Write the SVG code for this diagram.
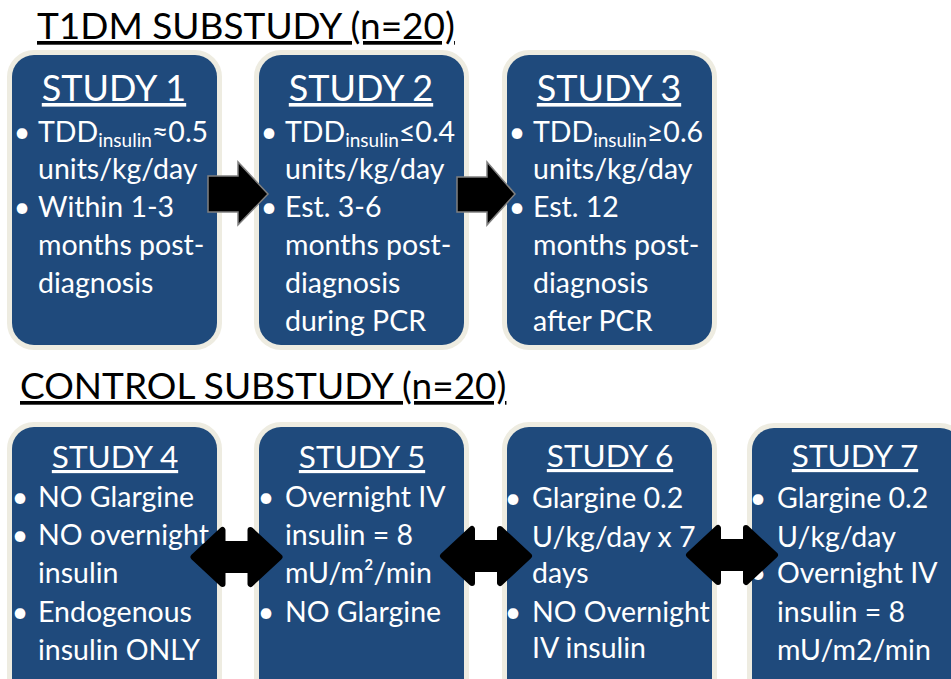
<svg xmlns="http://www.w3.org/2000/svg" width="951" height="679" viewBox="0 0 951 679">
<defs>
<style>
.box{fill:#1f4a7c;stroke:#eeece1;stroke-width:10;paint-order:stroke}
.t{font-family:Lato,"Open Sans","DejaVu Sans",sans-serif;fill:#fff}
.hd1{font-size:36px;text-anchor:middle;text-decoration:underline}
.hd2{font-size:31.5px;text-anchor:middle;text-decoration:underline}
.b1{font-size:28.5px}
.b2{font-size:28.5px}
.sub{font-size:19px}
.title{font-family:Lato,"Open Sans","DejaVu Sans",sans-serif;font-size:37px;fill:#000;text-decoration:underline}
.arr1{fill:#000;stroke:#808080;stroke-width:1.5}
.arr2{fill:#000;stroke:#000;stroke-width:6;stroke-linejoin:round}
</style>
<path id="dbl" d="M-43,0 L-14,-27 L-14,-13 L14,-13 L14,-27 L43,0 L14,27 L14,13 L-14,13 L-14,27 Z"/>
</defs>
<rect width="951" height="679" fill="#fff"/>
<text class="title" x="37" y="39">T1DM SUBSTUDY (n=20)</text>
<text class="title" x="20" y="399">CONTROL SUBSTUDY (n=20)</text>

<g id="study1">
<rect class="box" x="12" y="55" width="205" height="290" rx="22"/>
<text class="t hd1" x="114" y="101">STUDY 1</text>
<text class="t b1" x="22" y="142" text-anchor="middle">•</text>
<text class="t b1" x="38" y="142">TDD<tspan class="sub" dy="5">insulin</tspan><tspan dy="-5">≈0.5</tspan></text>
<text class="t b1" x="38" y="179">units/kg/day</text>
<text class="t b1" x="22" y="217" text-anchor="middle">•</text>
<text class="t b1" x="38" y="217">Within 1-3</text>
<text class="t b1" x="38" y="255">months post-</text>
<text class="t b1" x="38" y="293">diagnosis</text>
</g>

<g id="study2">
<rect class="box" x="259" y="55" width="205" height="290" rx="22"/>
<text class="t hd1" x="361" y="101">STUDY 2</text>
<text class="t b1" x="269" y="142" text-anchor="middle">•</text>
<text class="t b1" x="285" y="142">TDD<tspan class="sub" dy="5">insulin</tspan><tspan dy="-5">≤0.4</tspan></text>
<text class="t b1" x="285" y="179">units/kg/day</text>
<text class="t b1" x="269" y="217" text-anchor="middle">•</text>
<text class="t b1" x="285" y="217">Est. 3-6</text>
<text class="t b1" x="285" y="255">months post-</text>
<text class="t b1" x="285" y="293">diagnosis</text>
<text class="t b1" x="285" y="331">during PCR</text>
</g>

<g id="study3">
<rect class="box" x="507" y="55" width="205" height="290" rx="22"/>
<text class="t hd1" x="609" y="101">STUDY 3</text>
<text class="t b1" x="517" y="142" text-anchor="middle">•</text>
<text class="t b1" x="533" y="142">TDD<tspan class="sub" dy="5">insulin</tspan><tspan dy="-5">≥0.6</tspan></text>
<text class="t b1" x="533" y="179">units/kg/day</text>
<text class="t b1" x="517" y="217" text-anchor="middle">•</text>
<text class="t b1" x="533" y="217">Est. 12</text>
<text class="t b1" x="533" y="255">months post-</text>
<text class="t b1" x="533" y="293">diagnosis</text>
<text class="t b1" x="533" y="331">after PCR</text>
</g>

<g id="study4">
<rect class="box" x="12" y="427" width="205" height="290" rx="22"/>
<text class="t hd2" x="115" y="468">STUDY 4</text>
<text class="t b2" x="20" y="507" text-anchor="middle">•</text>
<text class="t b2" x="38" y="507">NO Glargine</text>
<text class="t b2" x="20" y="545" text-anchor="middle">•</text>
<text class="t b2" x="38" y="545">NO overnight</text>
<text class="t b2" x="38" y="583">insulin</text>
<text class="t b2" x="20" y="622" text-anchor="middle">•</text>
<text class="t b2" x="38" y="622">Endogenous</text>
<text class="t b2" x="38" y="660">insulin ONLY</text>
</g>

<g id="study5">
<rect class="box" x="259" y="427" width="205" height="290" rx="22"/>
<text class="t hd2" x="362" y="468">STUDY 5</text>
<text class="t b2" x="266" y="507" text-anchor="middle">•</text>
<text class="t b2" x="285" y="507">Overnight IV</text>
<text class="t b2" x="285" y="545">insulin = 8</text>
<text class="t b2" x="285" y="583">mU/m²/min</text>
<text class="t b2" x="266" y="622" text-anchor="middle">•</text>
<text class="t b2" x="285" y="622">NO Glargine</text>
</g>

<g id="study6">
<rect class="box" x="507" y="427" width="205" height="290" rx="22"/>
<text class="t hd2" x="610" y="467">STUDY 6</text>
<text class="t b2" x="513" y="508" text-anchor="middle">•</text>
<text class="t b2" x="532" y="508">Glargine 0.2</text>
<text class="t b2" x="532" y="547">U/kg/day x 7</text>
<text class="t b2" x="532" y="583">days</text>
<text class="t b2" x="513" y="622" text-anchor="middle">•</text>
<text class="t b2" x="532" y="622">NO Overnight</text>
<text class="t b2" x="532" y="658">IV insulin</text>
</g>

<g id="study7">
<rect class="box" x="752" y="428" width="210" height="290" rx="22"/>
<text class="t hd2" x="855" y="467">STUDY 7</text>
<text class="t b2" x="758" y="508" text-anchor="middle">•</text>
<text class="t b2" x="777" y="508">Glargine 0.2</text>
<text class="t b2" x="777" y="547">U/kg/day</text>
<text class="t b2" x="758" y="583" text-anchor="middle">•</text>
<text class="t b2" x="777" y="583">Overnight IV</text>
<text class="t b2" x="777" y="622">insulin = 8</text>
<text class="t b2" x="777" y="660">mU/m2/min</text>
</g>

<g id="connectors">
<polygon class="arr1" points="208,176 238,176 238,162 268,194 238,225 238,212 208,212"/>
<polygon class="arr1" points="457,177 487,177 487,162 515,194 487,225 487,212 457,212"/>
<use href="#dbl" class="arr2" x="236.5" y="557"/>
<use href="#dbl" class="arr2" x="486" y="556"/>
<use href="#dbl" class="arr2" x="732" y="555"/>
</g>
</svg>
